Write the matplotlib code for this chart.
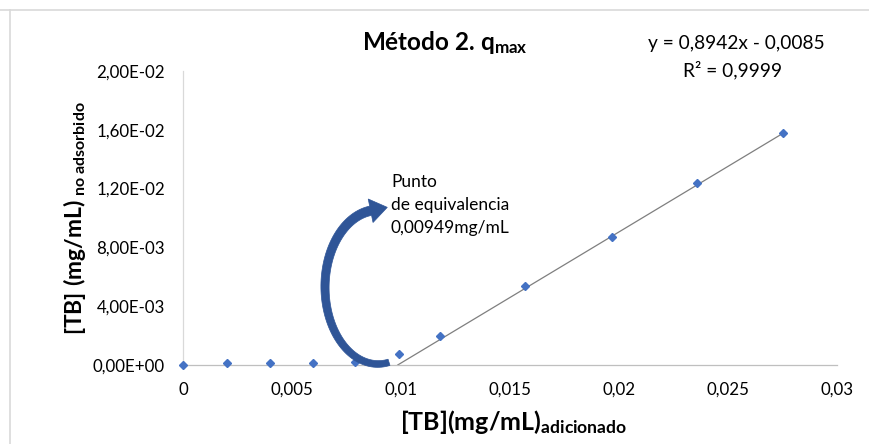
import matplotlib
matplotlib.use("Agg")
import numpy as np
import matplotlib.pyplot as plt
from matplotlib.patches import Polygon
from matplotlib.lines import Line2D
from matplotlib.ticker import FuncFormatter, FixedLocator

plt.rcParams['font.family'] = ['Lato', 'DejaVu Sans']
plt.rcParams['mathtext.fontset'] = 'custom'
plt.rcParams['mathtext.rm'] = 'Lato'
plt.rcParams['mathtext.bf'] = 'Lato:bold'
plt.rcParams['mathtext.it'] = 'Lato:italic'

# Data
x_added = [0.0, 0.00203, 0.00399, 0.00595, 0.0079, 0.0099, 0.0118, 0.01569, 0.01967, 0.02356, 0.02752]
y_not_adsorbed = [0.0, 0.00012, 0.00012, 0.00012, 0.00023, 0.00075, 0.00197, 0.00537, 0.00873, 0.0124, 0.01576]
trend_x = [0.00985, 0.02752]
trend_y = [0.0, 0.01576]
x_ticks = [0, 0.005, 0.01, 0.015, 0.02, 0.025, 0.03]
y_ticks = [0, 0.004, 0.008, 0.012, 0.016, 0.02]

W, H = 870, 444
fig = plt.figure(figsize=(W/100, H/100), dpi=100)
ax = fig.add_axes([183/W, 1-365/H, (837-183)/W, (365-71)/H])

blue = '#4472C4'
ax.plot(x_added, y_not_adsorbed, linestyle='none', marker='D', markersize=4.2,
        color=blue, zorder=3, clip_on=False)
ax.plot(trend_x, trend_y, color='#7F7F7F', lw=0.9, zorder=2)

ax.set_xlim(0, 0.03)
ax.set_ylim(0, 0.02)
ax.xaxis.set_major_locator(FixedLocator(x_ticks))
ax.yaxis.set_major_locator(FixedLocator(y_ticks))
ax.xaxis.set_major_formatter(FuncFormatter(lambda v, p: f"{v:g}".replace('.', ',')))
ax.yaxis.set_major_formatter(FuncFormatter(lambda v, p: f"{v:.2E}".replace('.', ',')))
ax.tick_params(axis='both', length=0, labelsize=12.2, colors='#000000')
ax.tick_params(axis='y', pad=13)
ax.tick_params(axis='x', pad=12)

for s in ['top', 'right']:
    ax.spines[s].set_visible(False)
ax.spines['left'].set_color('#D9D9D9')
ax.spines['bottom'].set_color('#BFBFBF')
ax.spines['left'].set_linewidth(0.9)
ax.spines['bottom'].set_linewidth(0.9)

ax.set_ylabel(r'$\mathbf{[TB]\ (mg/mL)}_{\mathbf{\ no\ adsorbido}}$', fontsize=16.5)
ax.yaxis.set_label_coords(-0.146, 0.5)
ax.set_xlabel(r'$\mathbf{[TB](mg/mL)}_{\mathbf{adicionado}}$', fontsize=18)
ax.xaxis.set_label_coords(0.505, -0.145)

fig.text(445/W, 1-50/H, r'Método 2. q$_{\mathbf{max}}$', fontsize=17.5, fontweight='bold',
         ha='center', va='baseline')
fig.text(736/W, 1-43/H, 'y = 0,8942x - 0,0085', fontsize=13.8, ha='center', va='center')
fig.text(733/W, 1-70/H, 'R² = 0,9999', fontsize=13.8, ha='center', va='center')

ax.text(0.00954, 0.01088, 'Punto\nde equivalencia\n0,00949mg/mL', fontsize=12.5,
        ha='left', va='center', linespacing=1.55)

# curved arrow (annotation shape) in pixel coordinates
cx, cy, rx, ry = 378.0, 287.0, 53.0, 77.0
phi = np.radians(np.linspace(78, 262, 90))
xc = cx + rx*np.cos(phi)
yc = cy + ry*np.sin(phi)
tx = -rx*np.sin(phi); ty = ry*np.cos(phi)
tn = np.hypot(tx, ty); tx /= tn; ty /= tn
nx, ny = -ty, tx
w = np.linspace(6.5, 9.5, len(phi)) / 2
left = np.column_stack([xc + nx*w, yc + ny*w])
right = np.column_stack([xc - nx*w, yc - ny*w])
ex, ey = xc[-1], yc[-1]
dx, dy = tx[-1], ty[-1]
hn, hw, hl = (-dy, dx), 12.0, 17.0
head = np.array([
    [ex + hn[0]*hw, ey + hn[1]*hw],
    [ex + dx*hl, ey + dy*hl],
    [ex - hn[0]*hw, ey - hn[1]*hw],
])
pts = np.vstack([left, head, right[::-1]])
pts_fig = np.column_stack([pts[:, 0]/W, 1 - pts[:, 1]/H])
fig.add_artist(Polygon(pts_fig, closed=True, transform=fig.transFigure,
                       facecolor='#2F5597', edgecolor='#2F5597', lw=0.5, zorder=5))

fig.add_artist(Line2D([0, 1], [1-10/H, 1-10/H], color='#D9D9D9', lw=1.2))
fig.add_artist(Line2D([10/W, 10/W], [0, 1-10/H], color='#D9D9D9', lw=1.2))

fig.savefig('out.png', dpi=100)
